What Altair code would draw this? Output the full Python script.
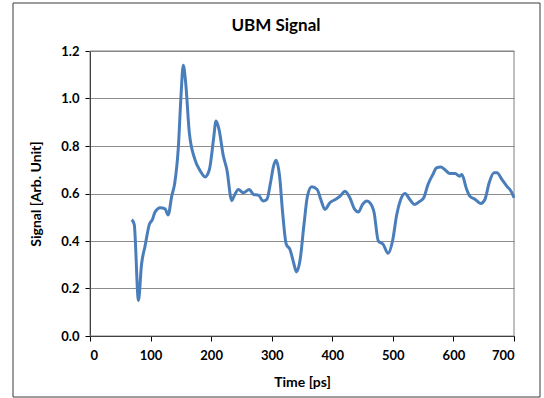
import altair as alt
import pandas as pd

time_ps = [69, 73, 80, 85, 91, 98, 103, 107, 116, 124, 129, 135, 140, 146, 150,
           154, 158, 164, 173, 182, 190, 197, 204, 208, 213, 220, 226, 234, 238, 245,
           253, 263, 270, 278, 286, 292, 298, 303, 307, 313, 318, 324, 330, 336, 341,
           347, 353, 359, 366, 375, 381, 388, 396, 405, 413, 421, 429, 437, 443, 450,
           457, 462, 469, 476, 484, 492, 500, 506, 513, 520, 528, 536, 545, 551, 558,
           566, 572, 579, 586, 594, 603, 610, 614, 621, 627, 636, 645, 652, 659, 667,
           672, 680, 688, 696, 700]
signal = [0.49, 0.47, 0.15, 0.30, 0.38, 0.47, 0.49, 0.52, 0.54, 0.535, 0.51, 0.59, 0.645, 0.80, 1.00,
          1.14, 1.065, 0.855, 0.745, 0.695, 0.67, 0.70, 0.83, 0.905, 0.87, 0.76, 0.70, 0.57, 0.59, 0.617,
          0.603, 0.617, 0.596, 0.593, 0.568, 0.575, 0.645, 0.715, 0.74, 0.673, 0.52, 0.386, 0.365, 0.31, 0.27,
          0.323, 0.463, 0.589, 0.628, 0.617, 0.575, 0.533, 0.561, 0.575, 0.589, 0.61, 0.582, 0.533, 0.522, 0.554,
          0.568, 0.561, 0.52, 0.40, 0.386, 0.348, 0.407, 0.505, 0.575, 0.60, 0.575, 0.554, 0.568, 0.582, 0.638,
          0.68, 0.708, 0.712, 0.70, 0.684, 0.684, 0.673, 0.68, 0.624, 0.589, 0.575, 0.558, 0.575, 0.645, 0.687,
          0.687, 0.659, 0.631, 0.606, 0.582]

x_ticks = [0, 100, 200, 300, 400, 500, 600, 700]
y_ticks = [0.0, 0.2, 0.4, 0.6, 0.8, 1.0, 1.2]

df = pd.DataFrame({"time": time_ps, "signal": signal})

FONT = "Lato"
W, H = 424, 285

line = alt.Chart(df).mark_line(color="#4A7EBB", strokeWidth=3, interpolate="monotone").encode(
    x=alt.X("time:Q", scale=alt.Scale(domain=[0, 700], nice=False),
            axis=alt.Axis(values=x_ticks, title="Time [ps]", grid=False, tickSize=5,
                          labelPadding=8, titlePadding=13)),
    y=alt.Y("signal:Q", scale=alt.Scale(domain=[0, 1.2], nice=False),
            axis=alt.Axis(values=y_ticks, format=".1f", title="Signal [Arb. Unit]",
                          grid=True, tickSize=5, labelPadding=6, titlePadding=17)),
)

frame = alt.Chart(alt.Data(values=[{}])).mark_rect(
    fill=None, stroke="#3a3a3a", strokeWidth=1
).encode(
    x=alt.value(-77), x2=alt.value(450), y=alt.value(-48), y2=alt.value(346)
)

plot_box = alt.Chart(alt.Data(values=[{}])).mark_rect(
    fill=None, stroke="#808080", strokeWidth=1
).encode(
    x=alt.value(0), x2=alt.value(W), y=alt.value(0), y2=alt.value(H)
)

chart = alt.layer(frame, plot_box, line).properties(
    width=W, height=H,
    autosize=alt.AutoSizeParams(type="none"),
    padding={"left": 90, "top": 51, "right": 30, "bottom": 62},
    background="white",
    title=alt.TitleParams("UBM Signal", font=FONT, fontSize=17, fontWeight="bold",
                          color="#000000", anchor="middle", dx=-26, offset=-45,
                          baseline="alphabetic"),
).configure_view(
    stroke=None
).configure_axis(
    labelFont=FONT, labelFontSize=13, labelFontWeight="bold", labelColor="#000000",
    titleFont=FONT, titleFontSize=14, titleFontWeight="bold", titleColor="#000000",
    domainColor="#000000", tickColor="#000000", gridColor="#8c8c8c", gridWidth=1,
)

chart.save("out.html", embed_options={"renderer": "svg", "actions": False})
